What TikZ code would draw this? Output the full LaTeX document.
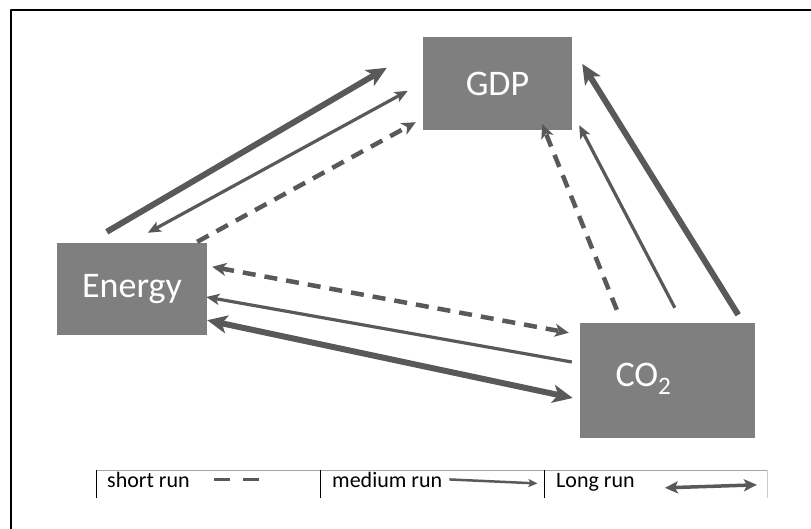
\documentclass[tikz,border=0pt]{standalone}
\usepackage{fontspec}
\setmainfont{Carlito}
\usetikzlibrary{arrows.meta,calc}
\definecolor{boxgray}{HTML}{7F7F7F}
\definecolor{arrgray}{HTML}{595959}
\begin{document}
\begin{tikzpicture}[x=1pt, y=-1pt, line join=round, font=\fontsize{22}{25}\selectfont]
	\tikzset{box/.style={fill=boxgray, inner sep=0pt, text=white, font=\fontsize{36}{42}\selectfont},
		ltip/.tip={Stealth[length=20pt, width=18pt, inset=5pt]},
		mtip/.tip={Stealth[length=13pt, width=11pt, inset=3pt]},
		stip/.tip={Stealth[length=14pt, width=13pt, inset=4pt]},
		longrun/.style={arrgray, line width=6pt},
		medrun/.style={arrgray, line width=3.2pt},
		shortrun/.style={arrgray, line width=4.5pt, dash pattern=on 13pt off 9pt}}
	\useasboundingbox (0,0) rectangle (811,529);
	% frame
	\draw[line width=2pt] (11,529) -- (11,10) -- (811,10);
	% boxes
	\node[box, minimum width=149pt, minimum height=93pt] (gdp) at (497.5,83.5) {GDP};
	\node[box, minimum width=150pt, minimum height=92pt] (energy) at (132,289) {Energy};
	\node[box, minimum width=175pt, minimum height=115pt] (co2) at (667.5,380.5) {};
	\node[box, fill=none] (co2text) at ($(co2.center)+(-24,-2)$) {CO\textsubscript{2}};
	% energy - gdp
	\draw[longrun, -ltip] ($(energy.north west)+(50,-11)$) -- ($(gdp.north west)+(-36,31)$);
	\draw[medrun, mtip-mtip] ($(energy.north west)+(91,-10)$) -- ($(gdp.north west)+(-15,54)$);
	\draw[shortrun, -stip] ($(energy.north east)+(-10,-1)$) -- ($(gdp.south west)+(-7,-8)$);
	% co2 - gdp
	\draw[shortrun, -stip] ($(co2.north west)+(37,-13)$) -- ($(gdp.south east)+(-30,-6)$);
	\draw[medrun, -mtip] ($(co2.north west)+(95,-15)$) -- ($(gdp.south east)+(7,-5)$);
	\draw[longrun, -ltip] ($(co2.north east)+(-17,-8)$) -- ($(gdp.north east)+(10,27)$);
	% energy - co2
	\draw[shortrun, stip-stip] ($(energy.north east)+(5,24)$) -- ($(co2.north west)+(-11,10)$);
	\draw[medrun, -mtip] ($(co2.west)+(-8,-18.5)$) -- ($(energy.east)+(-1,8)$);
	\draw[longrun, ltip-ltip] ($(energy.south east)+(0,-15)$) -- ($(co2.west)+(-7,17.5)$);
	% legend
	\draw[gray!70, line width=1pt] (96,470) -- (767,470);
	\foreach \x in {96,320,544}
		\draw[line width=1pt] (\x,470) -- (\x,498);
	\draw[gray!40, line width=1pt] (767,470) -- (767,498);
	\node[anchor=base west, inner sep=0pt] (legshort) at (107,487) {short run};
	\node[anchor=base west, inner sep=0pt] (legmed) at (332,487) {medium run};
	\node[anchor=base west, inner sep=0pt] (leglong) at (556,487) {Long run};
	\draw[arrgray, line width=3pt] ($(legshort.east)+(24,0)$) -- ++(16,0) ++(13,0) -- ++(16,0);
	\draw[arrgray, line width=2.5pt, -{Stealth[length=9pt, width=8pt, inset=2pt]}] ($(legmed.east)+(7,0)$) -- ($(legmed.east)+(95,4)$);
	\draw[arrgray, line width=3.5pt, {Stealth[length=13pt, width=12pt, inset=3pt]}-{Stealth[length=13pt, width=12pt, inset=3pt]}] ($(leglong.east)+(30,6)$) -- ($(leglong.east)+(122,3)$);
\end{tikzpicture}
\end{document}
